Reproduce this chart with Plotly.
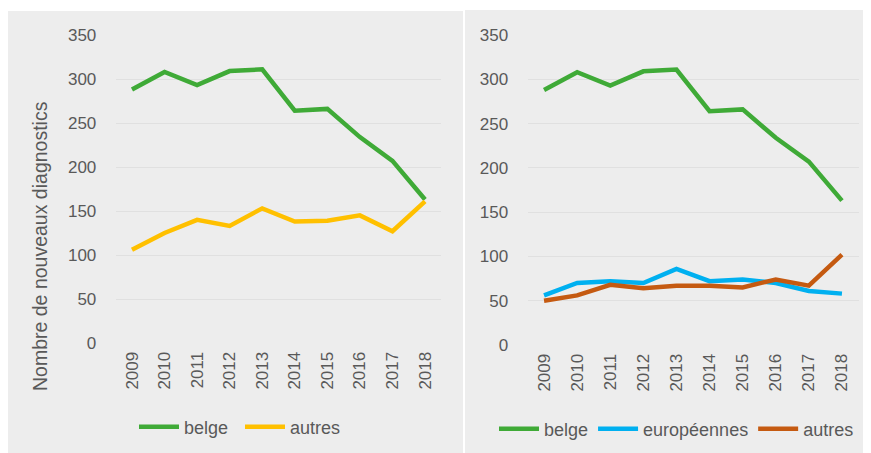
import plotly.graph_objects as go

years = ["2009", "2010", "2011", "2012", "2013", "2014", "2015", "2016", "2017", "2018"]

# Left panel
left_belge = [288, 308, 293, 309, 311, 264, 266, 234, 207, 163]
left_autres = [106, 125, 140, 133, 153, 138, 139, 145, 127, 161]

# Right panel
right_belge = [288, 308, 293, 309, 311, 264, 266, 234, 207, 163]
right_europeennes = [56, 70, 72, 70, 86, 72, 74, 70, 61, 58]
right_autres = [50, 56, 68, 64, 67, 67, 65, 74, 67, 102]

y_ticks = [0, 50, 100, 150, 200, 250, 300, 350]
y_title = "Nombre de nouveaux diagnostics"

GREEN = "#3FAA37"
YELLOW = "#FFC000"
BLUE = "#00B0F0"
RUST = "#C55A11"
TEXT = "#595959"
PANEL = "#EDEDED"
GRID = "#E0E0E0"
FONT = "Liberation Sans"

# page body has an 8px margin; the figure is sized so it fits the 871x453 window
OFF = 8
W, H = 871 - OFF, 453 - OFF

def px_x(x):
    return (x - OFF) / W

def px_y(y):
    return (H - (y - OFF)) / H

fig = go.Figure()

def add_line(x, y, name, color, xa, ya, legend):
    fig.add_trace(go.Scatter(
        x=x, y=y, name=name, mode="lines",
        line=dict(color=color, width=4.5),
        xaxis=xa, yaxis=ya, legend=legend,
        hoverinfo="x+y+name",
    ))

add_line(years, left_belge, "belge", GREEN, "x", "y", "legend")
add_line(years, left_autres, "autres", YELLOW, "x", "y", "legend")
add_line(years, right_belge, "belge", GREEN, "x2", "y2", "legend2")
add_line(years, right_europeennes, "européennes", BLUE, "x2", "y2", "legend2")
add_line(years, right_autres, "autres", RUST, "x2", "y2", "legend2")

axis_font = dict(family=FONT, size=17, color=TEXT)

xcommon = dict(type="category", range=[-0.5, 9.5], tickangle=-90, showgrid=False,
               zeroline=False, showline=False, ticks="outside", ticklen=1,
               tickcolor="rgba(0,0,0,0)", tickfont=axis_font, fixedrange=True)
ycommon = dict(range=[0, 350], tickvals=y_ticks, showgrid=True, gridcolor=GRID,
               gridwidth=1, zeroline=False, showline=False, ticks="outside",
               ticklen=15, tickcolor="rgba(0,0,0,0)", tickfont=axis_font,
               fixedrange=True)

legend_font = dict(family=FONT, size=18, color=TEXT)

fig.update_layout(
    width=W, height=H,
    margin=dict(l=0, r=0, t=0, b=0, autoexpand=False),
    paper_bgcolor="white",
    plot_bgcolor="rgba(0,0,0,0)",
    font=dict(family=FONT, color=TEXT),
    xaxis=dict(domain=[px_x(115.7), px_x(441.3)], anchor="y", **xcommon),
    yaxis=dict(domain=[px_y(343), px_y(35)], anchor="x", **ycommon),
    xaxis2=dict(domain=[px_x(527.5), px_x(858.5)], anchor="y2", **xcommon),
    yaxis2=dict(domain=[px_y(345), px_y(35)], anchor="x2", **ycommon),
    legend=dict(orientation="h", x=px_x(134), y=px_y(427), xanchor="left", yanchor="middle",
                font=legend_font, bgcolor="rgba(0,0,0,0)",
                itemwidth=40, tracegroupgap=0, entrywidth=51),
    legend2=dict(orientation="h", x=px_x(494), y=px_y(429), xanchor="left", yanchor="middle",
                 font=legend_font, bgcolor="rgba(0,0,0,0)",
                 itemwidth=40, tracegroupgap=0),
    showlegend=True,
    shapes=[
        dict(type="rect", xref="paper", yref="paper", x0=px_x(8), x1=px_x(463),
             y0=0, y1=px_y(11), fillcolor=PANEL, line=dict(width=0), layer="below"),
        dict(type="rect", xref="paper", yref="paper", x0=px_x(465), x1=1,
             y0=0, y1=px_y(10), fillcolor=PANEL, line=dict(width=0), layer="below"),
    ],
    annotations=[
        dict(text=y_title, xref="paper", yref="paper", x=px_x(40), y=px_y(246),
             textangle=-90, showarrow=False, xanchor="center", yanchor="middle",
             font=dict(family=FONT, size=19.5, color=TEXT)),
    ],
)

fig.write_html("out.html")
